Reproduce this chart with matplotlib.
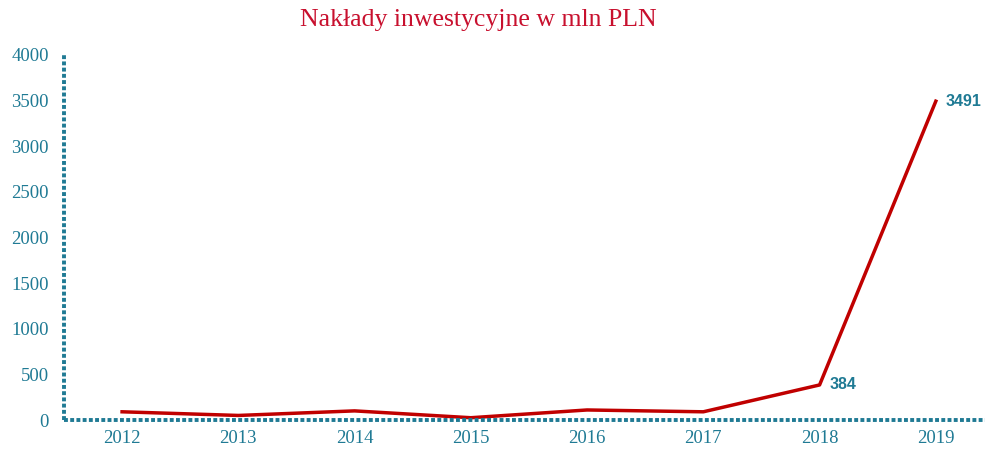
import matplotlib
matplotlib.use('Agg')
import matplotlib.pyplot as plt

years = ['2012', '2013', '2014', '2015', '2016', '2017', '2018', '2019']
values = [90, 50, 100, 25, 110, 90, 384, 3491]
labelled = {6: '384', 7: '3491'}

teal = '#1F7A94'
red = '#C00000'

fig = plt.figure(figsize=(9.9, 4.51), dpi=100)
ax = fig.add_axes([0.0646, 0.0687, 0.93, 0.81])

x = list(range(len(years)))
ax.plot(x, values, color=red, linewidth=2.5)
for i, txt in labelled.items():
    ax.annotate(txt, (x[i], values[i]), xytext=(7, 0), textcoords='offset points',
                color=teal, fontsize=11.5, fontweight='bold', family='Liberation Sans',
                va='center', ha='left')

ax.set_xlim(-0.5, 7.42)
ax.set_ylim(0, 4000)
ax.set_yticks(range(0, 4001, 500))
ax.set_xticks(x)
ax.set_xticklabels(years)

for side in ['top', 'right']:
    ax.spines[side].set_visible(False)
for side in ['left', 'bottom']:
    sp = ax.spines[side]
    sp.set_color(teal)
    sp.set_linewidth(2.8)
    sp.set_linestyle((0, (1.0, 0.6)))
    sp.set_capstyle('butt')

ax.tick_params(length=0, colors=teal, labelsize=13.5)
ax.tick_params(axis='y', pad=11)
ax.tick_params(axis='x', pad=7)
for lab in ax.get_xticklabels() + ax.get_yticklabels():
    lab.set_family('Liberation Serif')

fig.text(0.483, 0.955, 'Nakłady inwestycyjne w mln PLN', ha='center', va='center',
         color='#C8102E', fontsize=18.5, family='Liberation Serif')

fig.savefig('out.png', dpi=100)
